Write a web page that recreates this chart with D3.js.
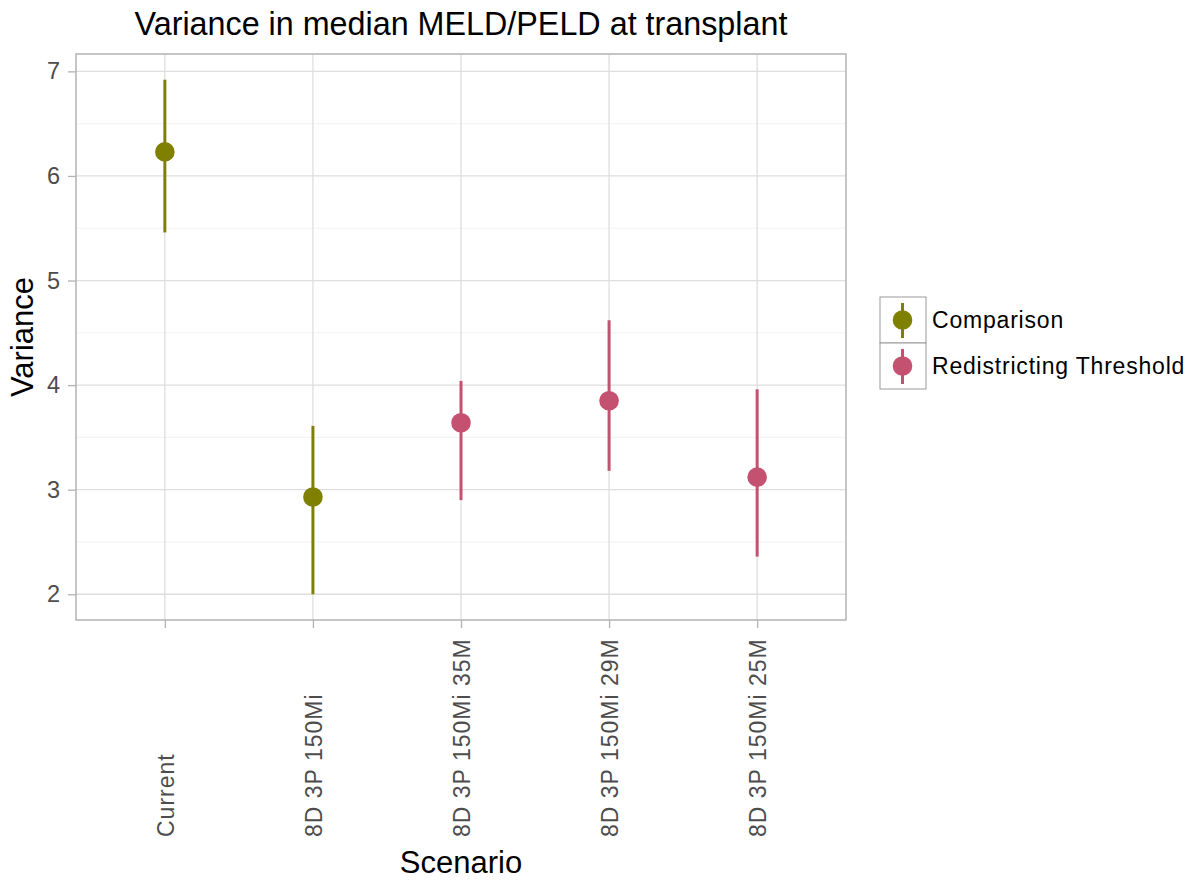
<!DOCTYPE html>
<html>
<head>
<meta charset="utf-8">
<script src="https://cdn.jsdelivr.net/npm/d3@7"></script>
<style>
  body { margin: 0; background: #fff; }
  text { font-family: Arial, "Liberation Sans", sans-serif; }
</style>
</head>
<body>
<div class="graph-container"></div>
<script>
// Data
var scenarios = ['Current', '8D 3P 150Mi', '8D 3P 150Mi 35M', '8D 3P 150Mi 29M', '8D 3P 150Mi 25M']
var groups = ['Comparison', 'Comparison', 'Redistricting Threshold', 'Redistricting Threshold', 'Redistricting Threshold']
var variance = [6.23, 2.93, 3.64, 3.85, 3.12]
var lower = [5.46, 2.00, 2.90, 3.18, 2.36]
var upper = [6.92, 3.61, 4.04, 4.62, 3.96]
var yTicks = [2, 3, 4, 5, 6, 7]
var legendLabels = ['Comparison', 'Redistricting Threshold']
var colors = ['#808000', '#c45170']

// SVG setup
var W = 1189, H = 880
var margin = {top: 54, right: 343, bottom: 260, left: 76},
    width = W - margin.left - margin.right,
    height = H - margin.top - margin.bottom

var svg = d3.select(".graph-container").append("svg")
    .attr("width", W)
    .attr("height", H)

var g = svg.append("g")
    .attr("transform", "translate(" + margin.left + "," + margin.top + ")")

var color = d3.scaleOrdinal().domain(legendLabels).range(colors)

// discrete x with ggplot style 0.6 expansion
var x = d3.scalePoint()
    .domain(scenarios)
    .range([0, width])
    .padding(0.6)

var lo = d3.min(lower), hi = d3.max(upper), pad = (hi - lo) * 0.05
var y = d3.scaleLinear()
    .domain([lo - pad, hi + pad])
    .range([height, 0])

// minor gridlines
var minor = d3.range(1.5, 7.5, 1).filter(v => v > y.domain()[0] && v < y.domain()[1])
g.selectAll(".minor")
  .data(minor)
  .enter().append("line")
  .attr("x1", 0).attr("x2", width)
  .attr("y1", d => y(d)).attr("y2", d => y(d))
  .attr("stroke", "#efefef")
  .attr("stroke-width", 0.8)

// major gridlines
g.selectAll(".hgrid")
  .data(yTicks)
  .enter().append("line")
  .attr("x1", 0).attr("x2", width)
  .attr("y1", d => y(d)).attr("y2", d => y(d))
  .attr("stroke", "#dedede")
  .attr("stroke-width", 1.3)

g.selectAll(".vgrid")
  .data(scenarios)
  .enter().append("line")
  .attr("x1", d => x(d)).attr("x2", d => x(d))
  .attr("y1", 0).attr("y2", height)
  .attr("stroke", "#dedede")
  .attr("stroke-width", 1.3)

// Axis
var yAxis = g.append("g")
  .call(d3.axisLeft(y).tickValues(yTicks).tickSize(8).tickPadding(8).tickFormat(d3.format("d")))
yAxis.select(".domain").remove()
yAxis.selectAll("line").attr("stroke", "#b3b3b3").attr("stroke-width", 1.3)
yAxis.selectAll("text")
  .attr("fill", "#4d4d4d")
  .style("font-size", "23.5px")

var xAxis = g.append("g")
  .attr("transform", "translate(0," + height + ")")
  .call(d3.axisBottom(x).tickSize(8))
xAxis.select(".domain").remove()
xAxis.selectAll("line").attr("stroke", "#b3b3b3").attr("stroke-width", 1.3)
xAxis.selectAll("text")
  .attr("fill", "#4d4d4d")
  .style("font-size", "23px")
  .style("letter-spacing", "1px")
  .attr("text-anchor", "start")
  .attr("transform", "translate(0,217) rotate(-90)")
  .attr("x", 0)
  .attr("y", 0)
  .attr("dy", "0.36em")

// panel border
g.append("rect")
  .attr("width", width)
  .attr("height", height)
  .attr("fill", "none")
  .attr("stroke", "#b3b3b3")
  .attr("stroke-width", 1.5)

// error bars + points
var rows = scenarios.map((s, i) => ({s: s, grp: groups[i], v: variance[i], lo: lower[i], hi: upper[i]}))

g.selectAll(".err")
  .data(rows)
  .enter().append("line")
  .attr("x1", d => x(d.s)).attr("x2", d => x(d.s))
  .attr("y1", d => y(d.lo)).attr("y2", d => y(d.hi))
  .attr("stroke", d => color(d.grp))
  .attr("stroke-width", 3)

g.selectAll(".pt")
  .data(rows)
  .enter().append("circle")
  .attr("cx", d => x(d.s))
  .attr("cy", d => y(d.v))
  .attr("r", 9.8)
  .attr("fill", d => color(d.grp))

// Titles
svg.append("text")
  .attr("x", margin.left + width / 2)
  .attr("y", 35)
  .attr("text-anchor", "middle")
  .style("font-size", "32.3px")
  .text("Variance in median MELD/PELD at transplant")

svg.append("text")
  .attr("x", margin.left + width / 2)
  .attr("y", 873)
  .attr("text-anchor", "middle")
  .style("font-size", "31px")
  .text("Scenario")

svg.append("text")
  .attr("transform", "translate(33," + (margin.top + height / 2) + ") rotate(-90)")
  .attr("text-anchor", "middle")
  .style("font-size", "31px")
  .text("Variance")

// Legend
var key = 46
var legend = svg.append("g")
  .attr("transform", "translate(880,297)")

var items = legend.selectAll(".item")
  .data(legendLabels)
  .enter().append("g")
  .attr("transform", (d, i) => "translate(0," + i * key + ")")

items.append("rect")
  .attr("width", key).attr("height", key)
  .attr("fill", "#fff")
  .attr("stroke", "#999")
  .attr("stroke-width", 1)

items.append("line")
  .attr("x1", key / 2 - 0.5).attr("x2", key / 2 - 0.5)
  .attr("y1", 6).attr("y2", key - 5)
  .attr("stroke", d => color(d))
  .attr("stroke-width", 3)

items.append("circle")
  .attr("cx", key / 2 - 0.5)
  .attr("cy", key / 2)
  .attr("r", 9.8)
  .attr("fill", d => color(d))

items.append("text")
  .attr("x", key + 6)
  .attr("y", key / 2)
  .attr("dy", "0.36em")
  .style("font-size", "23px")
  .style("letter-spacing", "0.8px")
  .text(d => d)
</script>
</body>
</html>
